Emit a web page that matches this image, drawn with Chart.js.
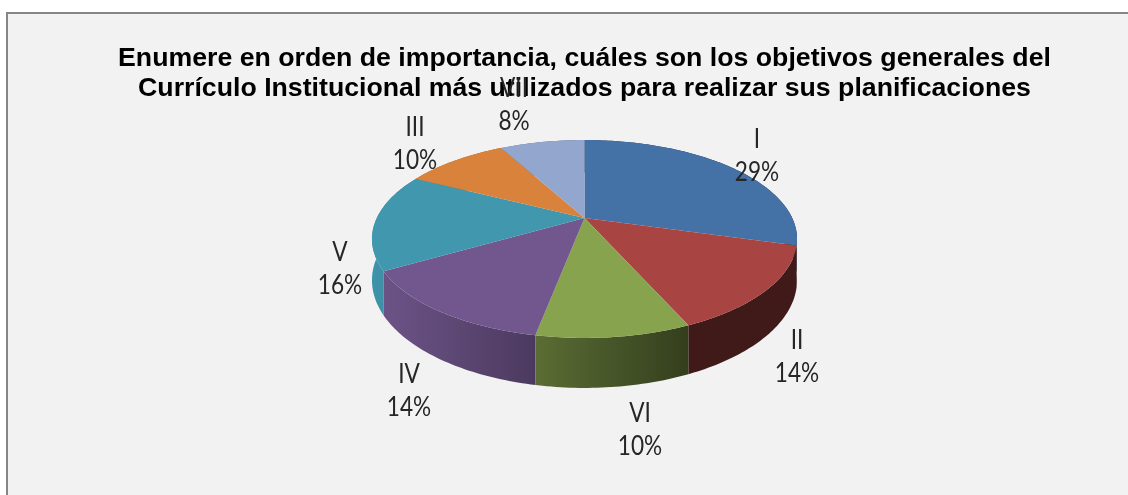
<!DOCTYPE html>
<html>
<head>
<meta charset="utf-8">
<style>
  html, body { margin: 0; padding: 0; background: #fff; }
  canvas { display: block; }
</style>
<script src="https://cdn.jsdelivr.net/npm/chart.js@4"></script>
</head>
<body>
<canvas id="pieChart" width="1128" height="495"></canvas>
<script>
    // Chart data, shares in percent
    const categories = ['I', 'II', 'VI', 'IV', 'V', 'III', 'VII'];
    const shares = [29.4, 14.0, 9.6, 13.6, 15.9, 9.6, 7.9];
    const sliceColors = ['#4471A6', '#A84543', '#88A34D', '#71578E', '#4097AE', '#D9823B', '#93A7CE'];
    const titleLines = [
        'Enumere en orden de importancia, cuáles son los objetivos generales del',
        'Currículo Institucional más utilizados para realizar sus planificaciones'
    ];

    // Label centres (name line), same order as categories
    const labelX = [757, 797, 640, 409, 340, 415, 514];
    const labelY = [140, 341, 414, 375, 253, 128, 89];
    const labelGap = 33;

    // Perspective of the disc
    const cx = 584.5, cy = 218;
    const radiusX = 207.7, radiusY = 94.5, tilt = 0.212, depth = 39.4;

    // a = angle in radians as the arc element gives it (0 = right, clockwise)
    function project(a) {
        const u = Math.cos(a), v = Math.sin(a);
        const w = 1 - tilt * v;
        return { x: cx + radiusX * u / w, y: cy + radiusY * v / w, d: depth / w };
    }

    function shade(hex, x) {
        const f = Math.min(1, Math.max(0.38, 0.95 - (x - 385) * 0.57 / 304));
        const n = parseInt(hex.slice(1), 16);
        const r = Math.round((n >> 16) * f), g = Math.round(((n >> 8) & 255) * f), b = Math.round((n & 255) * f);
        return `rgb(${r},${g},${b})`;
    }

    function rimPoints(arc) {
        const pts = [];
        const step = Math.PI / 180;
        for (let a = arc.startAngle; a < arc.endAngle; a += step) pts.push(project(a));
        pts.push(project(arc.endAngle));
        return pts;
    }

    const pie3d = {
        id: 'pie3d',
        beforeDraw(chart) {
            const { ctx, width, height } = chart;
            ctx.save();
            ctx.fillStyle = '#F2F2F2';
            ctx.fillRect(6, 12, width, height);
            ctx.strokeStyle = '#868686';
            ctx.lineWidth = 2;
            ctx.beginPath();
            ctx.moveTo(7, height);
            ctx.lineTo(7, 13);
            ctx.lineTo(width, 13);
            ctx.stroke();
            ctx.restore();
        },
        // Uses the angles of the library's arc elements, drawn in perspective
        beforeDatasetDraw(chart) {
            const { ctx } = chart;
            const arcs = chart.getDatasetMeta(0).data;
            ctx.save();

            // side wall, back to front
            const midSin = (arc) => Math.sin((arc.startAngle + arc.endAngle) / 2);
            [...arcs].sort((p, q) => midSin(p) - midSin(q)).forEach((arc) => {
                const pts = rimPoints(arc);
                const xs = pts.map((p) => p.x);
                const minX = Math.min(...xs), maxX = Math.max(...xs);
                const grad = ctx.createLinearGradient(minX, 0, maxX, 0);
                for (let i = 0; i <= 8; i++) {
                    grad.addColorStop(i / 8, shade(arc.options.backgroundColor, minX + (maxX - minX) * i / 8));
                }
                ctx.fillStyle = grad;
                ctx.beginPath();
                pts.forEach((p, i) => (i ? ctx.lineTo(p.x, p.y) : ctx.moveTo(p.x, p.y)));
                [...pts].reverse().forEach((p) => ctx.lineTo(p.x, p.y + p.d));
                ctx.closePath();
                ctx.fill();
            });

            // top face
            arcs.forEach((arc) => {
                ctx.fillStyle = arc.options.backgroundColor;
                ctx.beginPath();
                ctx.moveTo(cx, cy);
                rimPoints(arc).forEach((p) => ctx.lineTo(p.x, p.y));
                ctx.closePath();
                ctx.fill();
            });
            ctx.restore();
            return false;
        },
        // Drawn before the title on purpose: VII sits behind it
        afterDatasetsDraw(chart) {
            const { ctx } = chart;
            const values = chart.data.datasets[0].data;
            const total = values.reduce((s, n) => s + n, 0);
            const put = (text, x, y) => {
                ctx.save();
                ctx.translate(x, y);
                ctx.scale(0.87, 1);
                ctx.fillText(text, 0, 0);
                ctx.restore();
            };
            ctx.save();
            ctx.font = '26px Lato';
            ctx.fillStyle = '#262626';
            ctx.textAlign = 'center';
            ctx.textBaseline = 'middle';
            categories.forEach((name, i) => {
                put(name, labelX[i], labelY[i]);
                put(Math.round(values[i] / total * 100) + '%', labelX[i], labelY[i] + labelGap);
            });
            ctx.restore();
        }
    };

    new Chart(document.getElementById('pieChart'), {
        type: 'pie',
        data: {
            labels: categories,
            datasets: [{ data: shares, backgroundColor: sliceColors, borderWidth: 0 }]
        },
        options: {
            responsive: false,
            animation: false,
            layout: { padding: { top: 44, left: 41 } },
            plugins: {
                legend: { display: false },
                tooltip: { enabled: false },
                title: {
                    display: true,
                    text: titleLines,
                    color: '#000',
                    z: 1,
                    font: { family: 'Liberation Sans', size: 26.7, weight: 'bold', lineHeight: 1.12 },
                    padding: 0
                }
            }
        },
        plugins: [pie3d]
    });
</script>
</body>
</html>
